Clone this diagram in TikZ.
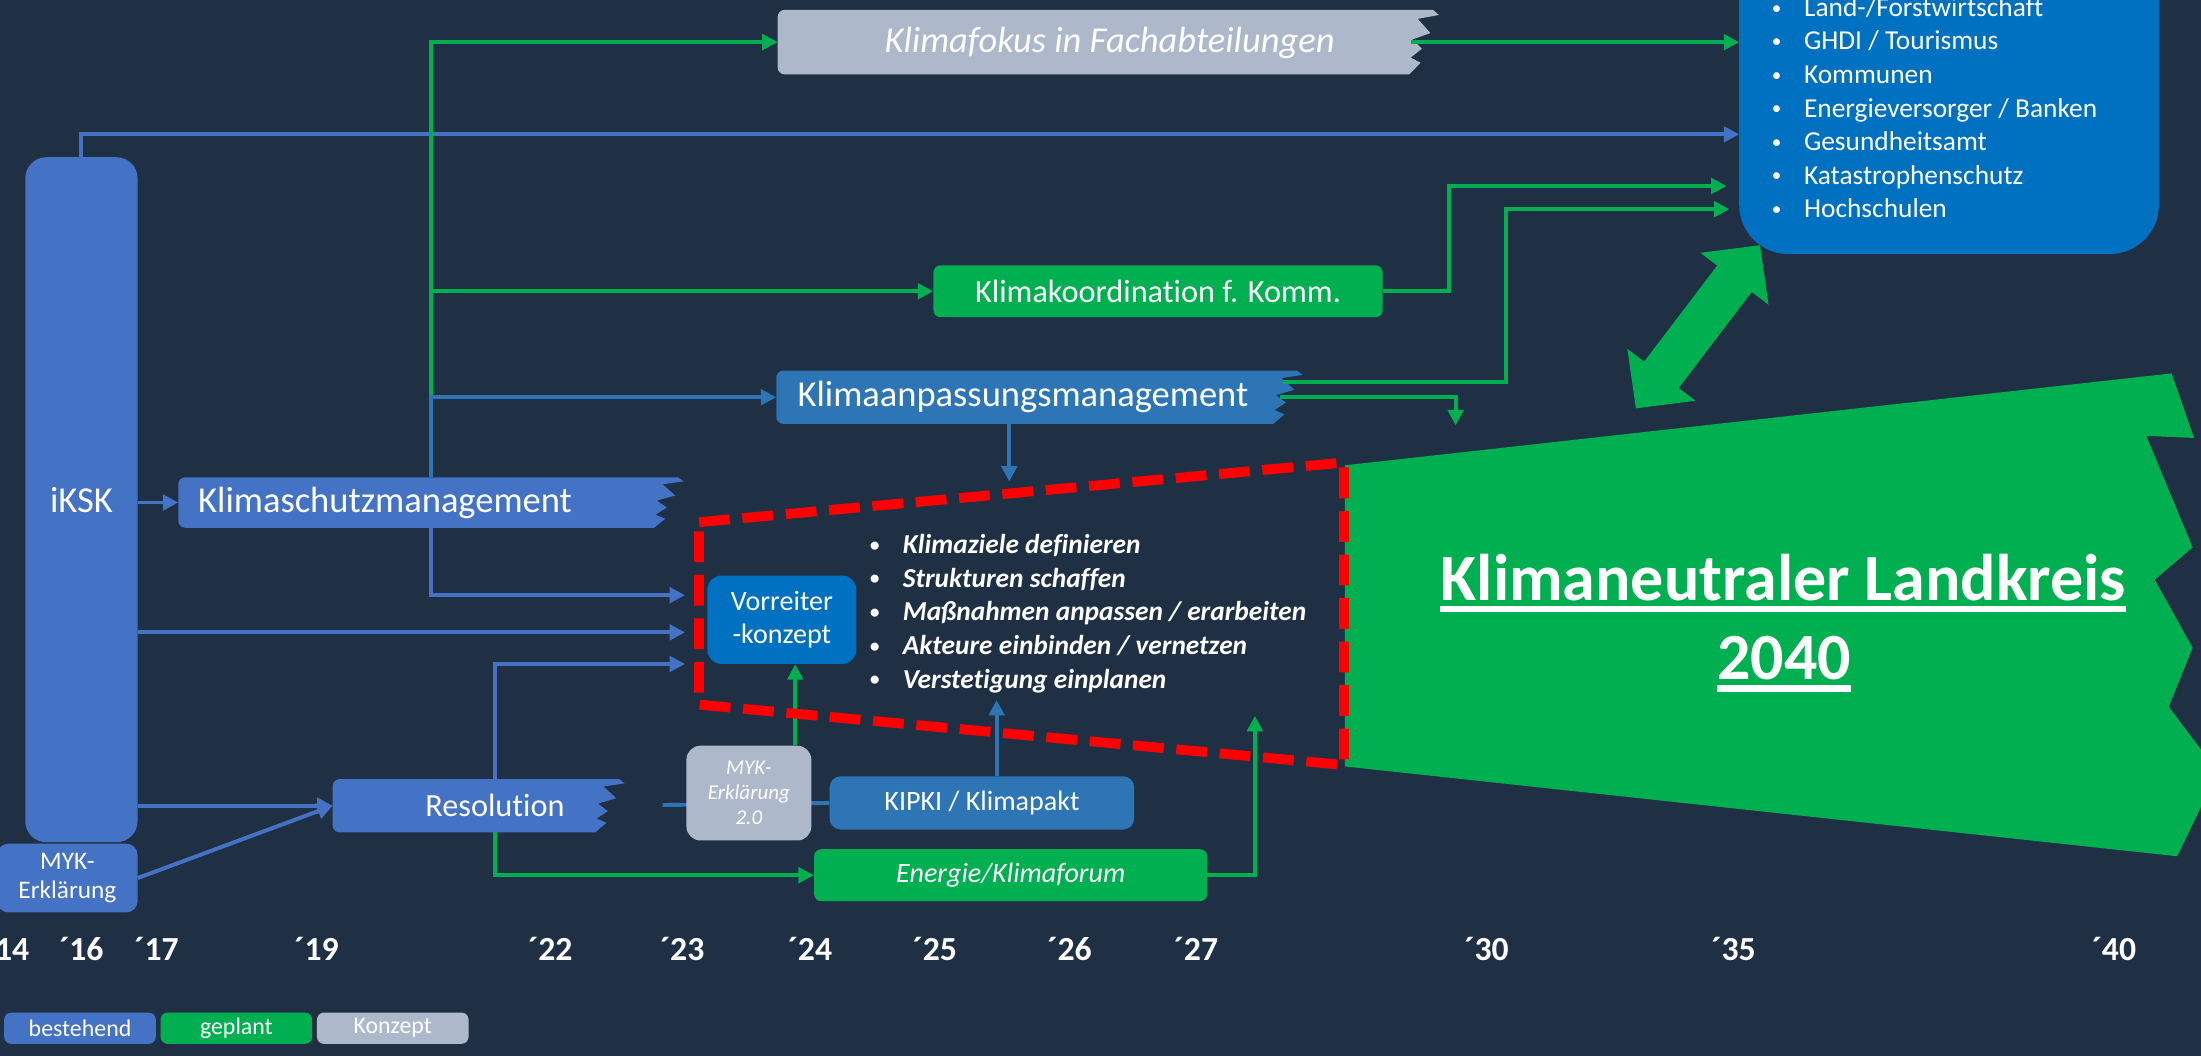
\documentclass[tikz,border=0pt]{standalone}
\usepackage{fontspec}
\setmainfont{Carlito}[Ligatures=NoCommon]
\usetikzlibrary{arrows.meta,calc,positioning}

\definecolor{navy}{HTML}{1F3044}
\definecolor{bestblue}{HTML}{4472C4}
\definecolor{pactblue}{HTML}{2E75B6}
\definecolor{leadblue}{HTML}{0070C0}
\definecolor{plangreen}{HTML}{00B050}
\definecolor{ideagrey}{HTML}{ADB9CA}
\definecolor{redline}{HTML}{FF0000}

\tikzset{
  card/.style={rounded corners=5pt, inner sep=0pt},
  shell/.style={inner sep=0pt, outer sep=0pt},
  con/.style={line width=2.8pt, -{Triangle[length=11pt,width=11pt]}},
  bcon/.style={con, color=bestblue},
  pcon/.style={con, color=pactblue},
  gcon/.style={con, color=plangreen},
  bigtxt/.style={font=\fontsize{26}{31}\selectfont},
  midtxt/.style={font=\fontsize{23}{27}\selectfont},
  smalltxt/.style={font=\fontsize{20}{23.5}\selectfont},
  yr/.style={font=\fontsize{24}{28}\selectfont\bfseries},
  legendbox/.style={card, minimum width=108pt, minimum height=22.3pt, font=\fontsize{17}{20}\selectfont},
}

% small list bullet
\newcommand{\dotmark}[1]{\makebox[#1][l]{\hspace{1pt}\raisebox{0.08em}{\scalebox{0.7}{\textbullet}}}}

% box with a torn right edge, drawn round an empty node
\newcommand{\tornfill}[2]{%
  \fill[#2] (#1.west) [rounded corners=5pt] -- (#1.north west) -- ($(#1.north west)+(30,0)$) [sharp corners]
    -- ($(#1.north east)+(-4,0)$)
    -- ($(#1.north east)!0.08!(#1.south east)$)
    -- ($(#1.north east)!0.14!(#1.south east)+(-15,0)$)
    -- ($(#1.north east)!0.36!(#1.south east)+(-6,0)$)
    -- ($(#1.north east)!0.46!(#1.south east)+(-19,0)$)
    -- ($(#1.north east)!0.60!(#1.south east)+(-12,0)$)
    -- ($(#1.north east)!0.74!(#1.south east)+(-20,0)$)
    -- ($(#1.north east)!0.82!(#1.south east)+(-13,0)$)
    -- ($(#1.south east)+(-21,0)$)
    -- ($(#1.south west)+(30,0)$) [rounded corners=5pt] -- (#1.south west) -- cycle;}

\begin{document}
\begin{tikzpicture}[x=1pt, y=-1pt, every node/.append style={text=white}]
\useasboundingbox (0,0) rectangle (1568,752);
\fill[navy] (0,0) rectangle (1568,752);

% Akteure
\node[shell, fill=leadblue, rounded corners=35pt, minimum width=299pt, minimum height=231pt] (rbox) at (1388.5,65.5) {};
\foreach \entry [count=\i] in {Land-/Forstwirtschaft, GHDI / Tourismus, Kommunen, Energieversorger / Banken, Gesundheitsamt, Katastrophenschutz, Hochschulen}
  \node[anchor=base west, inner sep=0pt, font=\fontsize{19.5}{23}\selectfont] (act\i) at (1261,{11.7+23.9*(\i-1)}) {\dotmark{24pt}\entry};

% iKSK and MYK
\node[card, fill=bestblue, rounded corners=15pt, minimum width=80pt, minimum height=488pt, bigtxt] (iksk) at (58,356) {iKSK};
\node[card, fill=bestblue, rounded corners=8pt, minimum width=100pt, minimum height=49pt, align=center, font=\fontsize{18}{21}\selectfont] (myk) at (48,625.5) {MYK-\\Erklärung};

% torn boxes
\node[shell, minimum width=360pt, minimum height=36pt] (ksm) at (307,358) {};
\tornfill{ksm}{bestblue}
\node[anchor=west, inner sep=0pt, bigtxt] (ksmtxt) at ([xshift=14pt]ksm.west) {Klimaschutzmanagement};

\node[shell, minimum width=375pt, minimum height=38pt] (kam) at (740.5,283) {};
\tornfill{kam}{pactblue}
\node[anchor=west, inner sep=0pt, bigtxt] (kamtxt) at ([xshift=15pt]kam.west) {Klimaanpassungsmanagement};

\node[shell, minimum width=471pt, minimum height=46pt] (kfo) at (789.5,30) {};
\tornfill{kfo}{ideagrey}
\node[inner sep=0pt, font={\fontsize{26}{31}\selectfont\itshape}] (kfotxt) at (790.5,30.8) {Klimafokus in Fachabteilungen};

\node[shell, minimum width=208pt, minimum height=38pt] (res) at (341,574) {};
\tornfill{res}{bestblue}
\node[inner sep=0pt, midtxt] (restxt) at (352.6,574) {Resolution};

% other boxes
\node[card, fill=plangreen, minimum width=320pt, minimum height=37pt, midtxt] (kko) at (825,207.5) {Klimakoordination f. Komm.};
\node[card, fill=leadblue, rounded corners=10pt, minimum width=106pt, minimum height=63pt, align=center, smalltxt] (vor) at (557,441.5) {Vorreiter\\-konzept};
\node[card, fill=pactblue, rounded corners=8pt, minimum width=217pt, minimum height=38pt, smalltxt] (kip) at (699.5,572) {KIPKI / Klimapakt};
\coordinate (cut) at (472,573.5);
\draw[pactblue, line width=2.8pt] (cut) -- (kip.west);
\node[card, fill=ideagrey, rounded corners=10pt, minimum width=89pt, minimum height=67.5pt, align=center, font={\fontsize{15}{17.8}\selectfont\itshape}] (myk2) at (533.5,565) {MYK-\\Erklärung\\2.0};
\node[card, fill=plangreen, minimum width=280pt, minimum height=37pt, font={\fontsize{20}{23.5}\selectfont\itshape}] (ekf) at (720,623.5) {Energie/Klimaforum};

% connectors
\coordinate (split) at (ksm.north |- kam.west);
\draw[bcon] (iksk.north) |- (rbox.west |- 0,95.7);
\draw[gcon] ([xshift=-20pt]kfo.east) -- (rbox.west |- kfo.east);
\draw[gcon] (split) |- (kfo.west);
\draw[gcon] (split) |- (kko.west);
\draw[pcon] (ksm.north) |- (kam.west);
\draw[bcon] (iksk.east |- ksm.west) -- (ksm.west);

\coordinate (in1) at (488,424);
\coordinate (in2) at (488,450.5);
\coordinate (in3) at (488,473);
\coordinate (in4) at (894,510);
\coordinate (in5) at (710,498.7);
\coordinate (in6) at (719,343);
\draw[bcon] (ksm.south) |- (in1);
\draw[bcon] (iksk.east |- in2) -- (in2);
\draw[bcon] (res.north -| 352.6,0) |- (in3);
\draw[bcon] (iksk.east |- res.west) -- (res.west);
\draw[bcon] (myk.east) -- (res.west);
\draw[gcon] (res.south -| 352.6,0) |- (ekf.west);
\draw[gcon] (ekf.east) -| (in4);
\draw[gcon] (myk2.north -| 566.5,0) -- (vor.south -| 566.5,0);
\draw[pcon] (kip.north -| in5) -- (in5);
\draw[pcon] (kam.south -| in6) -- (in6);

\coordinate (out1) at (1230,132.5);
\coordinate (out2) at (1232,149);
\coordinate (out3) at (1037,303);
\draw[gcon] (kko.east) -| (1032,132.5) -- (out1);
\draw[gcon] ([xshift=-14pt]kam.east |- 0,272) -| (1073,149) -- (out2);
\draw[gcon] ([xshift=-16pt]kam.east) -| (out3);

% goal
\fill[plangreen] (958,331.5) -- (1547,266) -- (1563,312) -- (1529,310.5) -- (1562,390) -- (1535,413) -- (1562,461.5) -- (1545,503.5) -- (1580,550) -- (1551,610) -- (958,546) -- cycle;
\node[anchor=base, inner sep=0pt, font=\fontsize{47}{50}\selectfont\bfseries] (goal) at (1270.5,428) {Klimaneutraler Landkreis};
\node[anchor=base, inner sep=0pt, font=\fontsize{47}{50}\selectfont\bfseries] (goalyear) at (1271,484) {2040};
\draw[white, line width=4.5pt] ([yshift=-6pt]goal.base west) -- ([yshift=-6pt]goal.base east);
\draw[white, line width=4.5pt] ([yshift=-6.5pt]goalyear.base west) -- ([yshift=-6.5pt]goalyear.base east);

% double arrow between goal and Akteure
\fill[plangreen] (1253.8,174.7) -- (1259.9,217.1) -- (1247.9,208.0) -- (1195.9,276.4) -- (1207.9,285.5) -- (1165.4,290.9) -- (1159.3,248.5) -- (1171.3,257.6) -- (1223.3,189.2) -- (1211.3,180.1) -- cycle;

% concept frame
\coordinate (ftl) at (498,372);
\coordinate (ftr) at (957.5,329.5);
\coordinate (fbr) at (957.5,545);
\coordinate (fbl) at (498,502);
\draw[redline, line width=7pt, dash pattern=on 22pt off 9pt] (ftl) -- (ftr) -- (fbr) -- (fbl) -- cycle;
\foreach \entry [count=\i] in {Klimaziele definieren, Strukturen schaffen, Maßnahmen anpassen / erarbeiten, Akteure einbinden / vernetzen, Verstetigung einplanen}
  \node[anchor=base west, inner sep=0pt, font=\fontsize{19.5}{23}\selectfont\bfseries\itshape] (aim\i) at (618.5,{394.2+24*(\i-1)}) {\dotmark{24.5pt}\entry};

% years
\foreach \yy/\x in {14/5, 16/58, 17/111.5, 19/225.5, 22/392, 23/486, 24/577, 25/666, 26/762, 27/852, 30/1059, 35/1235, 40/1506}
  \node[yr] (y\yy) at (\x,676) {´\yy};

% legend
\node[legendbox, fill=bestblue] (kb) at (57,732.5) {bestehend};
\node[legendbox, fill=plangreen, right=3pt of kb] (kg) {geplant};
\node[legendbox, fill=ideagrey, right=3pt of kg] (kc) {Konzept};
\end{tikzpicture}
\end{document}
